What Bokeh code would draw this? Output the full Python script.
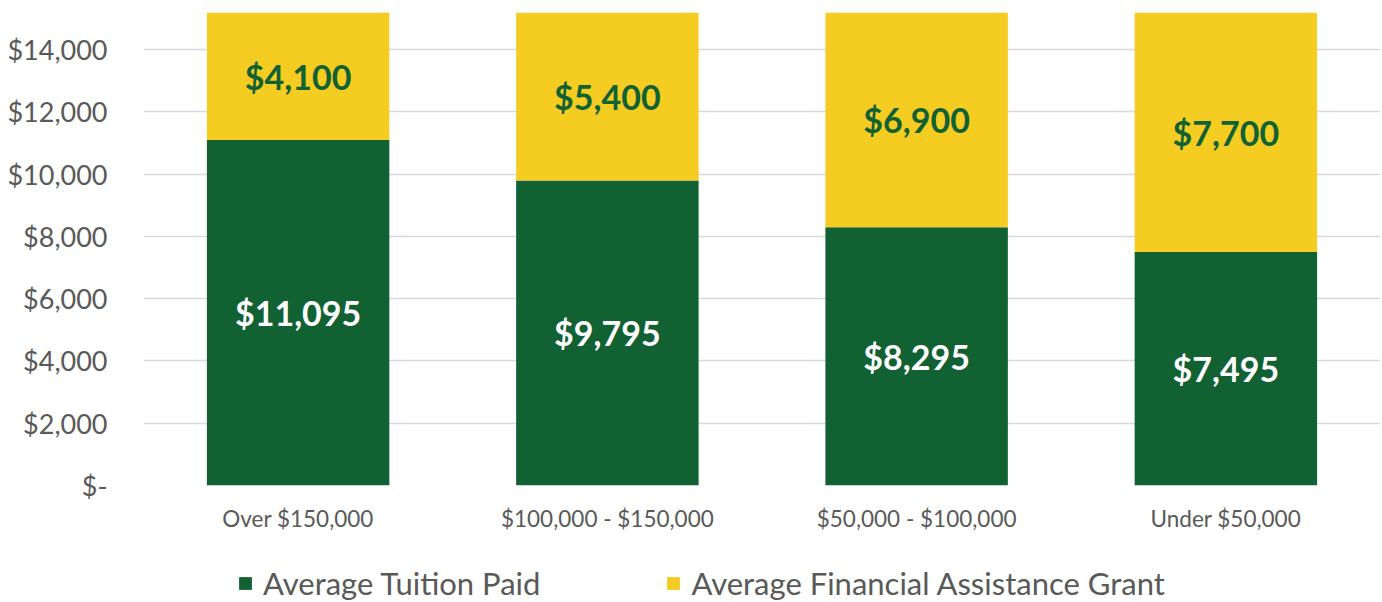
from bokeh.plotting import figure
from bokeh.layouts import column
from bokeh.models import ColumnDataSource, FactorRange, FixedTicker, Legend, LegendItem, Range1d
from bokeh.core.properties import value
from bokeh.embed import file_html
from bokeh.resources import INLINE

categories = ["Over $150,000", "$100,000 - $150,000", "$50,000 - $100,000", "Under $50,000"]
tuition = [11095, 9795, 8295, 7495]
grant = [4100, 5400, 6900, 7700]
series_names = ["Average Tuition Paid", "Average Financial Assistance Grant"]
y_ticks = [0, 2000, 4000, 6000, 8000, 10000, 12000, 14000]
y_tick_labels = ["$-", "$2,000", "$4,000", "$6,000", "$8,000", "$10,000", "$12,000", "$14,000"]

GREEN = "#116133"
GOLD = "#F5CC22"
GRAY = "#595959"
FONT = "Lato"

src = ColumnDataSource(dict(
    cat=categories,
    tuition=tuition,
    grant=grant,
    t_mid=[t / 2 for t in tuition],
    g_mid=[t + g / 2 for t, g in zip(tuition, grant)],
    t_lab=["${:,}".format(t) for t in tuition],
    g_lab=["${:,}".format(g) for g in grant],
))

p = figure(x_range=FactorRange(*categories, range_padding=0),
           y_range=Range1d(0, 15190),
           width=1382, height=540, output_backend="svg", toolbar_location=None,
           min_border_left=143, min_border_right=2, min_border_top=12, min_border_bottom=55)
p.outline_line_color = None
p.background_fill_color = "white"
p.border_fill_color = "white"

r = p.vbar_stack(["tuition", "grant"], x="cat", width=0.59, source=src,
                 color=[GREEN, GOLD], line_color=None)

p.text(x="cat", y="t_mid", text="t_lab", source=src, text_color="white",
       text_font=value(FONT), text_font_style="bold", text_font_size="34px",
       text_align="center", text_baseline="middle")
p.text(x="cat", y="g_mid", text="g_lab", source=src, text_color=GREEN,
       text_font=value(FONT), text_font_style="bold", text_font_size="34px",
       text_align="center", text_baseline="middle")

p.xgrid.grid_line_color = None
p.ygrid.grid_line_color = "#d9d9d9"
p.ygrid.grid_line_width = 1.3
p.yaxis.ticker = FixedTicker(ticks=y_ticks)
p.yaxis.major_label_overrides = {t: l for t, l in zip(y_ticks, y_tick_labels)}
for ax in (p.xaxis[0], p.yaxis[0]):
    ax.axis_line_color = None
    ax.major_tick_line_color = None
    ax.minor_tick_line_color = None
    ax.major_label_text_color = GRAY
    ax.major_label_text_font = FONT
p.yaxis.major_label_text_font_size = "27px"
p.yaxis.major_label_standoff = 30
p.xaxis.major_label_text_font_size = "22.5px"
p.xaxis.major_label_standoff = 13

# legend strip below the chart: the same series drawn into a y window far above
# the data, so the bars stay out of sight and only the legend shows
p2 = figure(width=1382, height=62, output_backend="svg", toolbar_location=None,
            x_range=FactorRange(*categories, range_padding=0), y_range=Range1d(50000, 50001),
            x_axis_type=None, y_axis_type=None,
            min_border_left=143, min_border_right=2, min_border_top=0, min_border_bottom=0)
p2.outline_line_color = None
p2.grid.visible = False
r2 = p2.vbar_stack(["tuition", "grant"], x="cat", width=0.59, source=src,
                   color=[GREEN, GOLD], line_color=None)
legend = Legend(items=[LegendItem(label=series_names[0], renderers=[r2[0]]),
                       LegendItem(label=series_names[1], renderers=[r2[1]])],
                location=(94, 0), orientation="horizontal",
                glyph_width=16, glyph_height=16, label_standoff=10, spacing=125,
                label_text_font=FONT, label_text_font_size="31px", label_text_color=GRAY,
                border_line_color=None, background_fill_alpha=0, padding=0, margin=0)
p2.add_layout(legend, "center")

layout = column(p, p2, spacing=0)
open("out.html", "w").write(file_html(layout, INLINE))
